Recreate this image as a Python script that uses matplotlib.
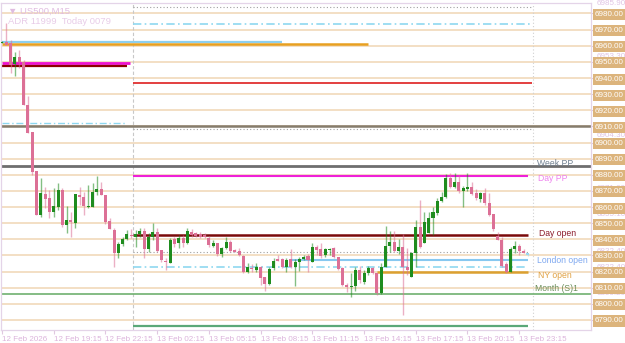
import numpy as np
import matplotlib
matplotlib.use("Agg")
import matplotlib.pyplot as plt

plt.rcParams["font.family"] = ["Liberation Sans", "DejaVu Sans"]

# US500 M15 candles (open, high, low, close)
opens = [6962.0, 6962.4, 6961.7, 6948.7, 6953.1, 6950.0, 6923.3, 6906.6, 6882.4, 6855.1,
         6868.1, 6865.6, 6857.0, 6860.1, 6870.6, 6848.9, 6852.0, 6850.1, 6867.5, 6866.3,
         6860.1, 6860.1, 6869.4, 6871.2, 6867.5, 6851.4, 6845.8, 6831.5, 6837.1, 6840.2,
         6842.7, 6841.5, 6843.3, 6845.2, 6834.0, 6841.5, 6844.6, 6833.4, 6826.6, 6825.3,
         6840.2, 6837.8, 6840.8, 6837.8, 6844.6, 6843.9, 6843.3, 6842.7, 6840.8, 6835.9,
         6837.8, 6830.9, 6834.6, 6838.4, 6833.4, 6832.8, 6829.7, 6819.8, 6822.2, 6821.0,
         6822.9, 6816.7, 6812.3, 6822.2, 6827.8, 6827.8, 6822.9, 6827.8, 6822.9, 6826.0,
         6827.8, 6829.7, 6826.0, 6835.3, 6834.0, 6830.3, 6833.4, 6834.6, 6829.1, 6822.2,
         6811.7, 6810.5, 6811.1, 6821.0, 6813.6, 6819.1, 6822.2, 6819.1, 6806.8, 6822.9,
         6835.9, 6838.4, 6832.8, 6835.3, 6822.9, 6816.7, 6831.5, 6847.7, 6837.8, 6843.9,
         6853.2, 6856.3, 6863.8, 6866.3, 6878.0, 6872.5, 6875.6, 6870.0, 6871.2, 6872.5,
         6868.8, 6865.0, 6868.8, 6862.5, 6855.7, 6842.1, 6839.6, 6824.7, 6819.8, 6834.0,
         6835.9, 6832.8, 6831.5]
highs = [6963.0, 6974.1, 6963.6, 6956.2, 6957.4, 6951.2, 6928.9, 6906.6, 6882.4, 6878.0,
         6872.5, 6870.6, 6871.8, 6874.9, 6871.8, 6860.7, 6857.0, 6868.1, 6872.5, 6869.4,
         6873.7, 6874.9, 6879.3, 6875.6, 6867.5, 6853.2, 6847.0, 6838.4, 6841.5, 6845.8,
         6846.4, 6845.8, 6847.0, 6847.0, 6843.9, 6850.1, 6847.0, 6833.4, 6828.4, 6840.8,
         6841.5, 6842.7, 6842.7, 6847.0, 6846.4, 6844.6, 6844.6, 6844.0, 6842.1, 6839.6,
         6837.8, 6835.3, 6841.5, 6839.6, 6834.0, 6834.6, 6830.3, 6825.3, 6824.7, 6825.3,
         6823.5, 6816.7, 6822.9, 6828.4, 6830.3, 6828.4, 6828.4, 6834.0, 6827.8, 6829.1,
         6830.3, 6830.9, 6837.8, 6836.5, 6837.8, 6834.6, 6834.6, 6835.3, 6829.1, 6822.9,
         6812.9, 6819.1, 6822.9, 6823.5, 6821.0, 6823.5, 6823.0, 6819.1, 6825.3, 6848.3,
         6845.2, 6845.2, 6840.2, 6843.3, 6834.6, 6832.2, 6852.0, 6864.4, 6857.0, 6857.0,
         6860.1, 6865.6, 6869.4, 6880.5, 6881.1, 6881.1, 6879.9, 6873.1, 6881.1, 6875.6,
         6871.2, 6869.4, 6871.8, 6868.8, 6855.7, 6844.6, 6841.5, 6826.0, 6835.3, 6839.0,
         6837.1, 6834.0, 6831.5]
lows = [6961.5, 6960.5, 6943.1, 6941.3, 6946.2, 6923.3, 6905.9, 6879.9, 6855.1, 6853.9,
        6859.4, 6853.2, 6853.9, 6858.2, 6847.7, 6843.9, 6841.5, 6847.0, 6861.3, 6855.1,
        6859.4, 6860.1, 6867.5, 6867.5, 6849.5, 6846.4, 6822.9, 6828.4, 6835.9, 6839.6,
        6840.8, 6835.3, 6841.5, 6828.4, 6832.2, 6839.6, 6832.2, 6826.0, 6821.0, 6825.3,
        6835.3, 6834.6, 6835.3, 6837.1, 6841.5, 6841.5, 6840.8, 6840.8, 6835.3, 6835.3,
        6829.7, 6829.1, 6834.0, 6832.2, 6832.2, 6829.7, 6819.1, 6819.1, 6819.8, 6819.8,
        6811.7, 6808.0, 6811.7, 6821.0, 6826.6, 6822.2, 6819.8, 6822.2, 6811.1, 6820.4,
        6827.2, 6819.8, 6826.0, 6830.0, 6828.4, 6829.1, 6830.3, 6828.4, 6821.0, 6811.1,
        6807.4, 6804.3, 6808.0, 6812.9, 6812.3, 6817.9, 6818.5, 6805.5, 6806.0, 6822.9,
        6832.2, 6832.2, 6830.9, 6793.1, 6817.9, 6816.7, 6822.9, 6834.6, 6837.8, 6843.9,
        6842.7, 6855.1, 6863.2, 6865.6, 6871.8, 6871.8, 6868.8, 6860.1, 6870.0, 6867.5,
        6864.4, 6863.2, 6861.3, 6854.5, 6845.2, 6839.6, 6822.9, 6819.1, 6819.8, 6831.5,
        6830.3, 6831.5, 6829.7]
closes = [6962.5, 6960.5, 6948.1, 6953.1, 6950.0, 6923.3, 6905.9, 6881.8, 6855.1, 6868.8,
          6865.0, 6857.0, 6860.7, 6870.6, 6848.9, 6852.0, 6850.8, 6868.1, 6866.3, 6860.7,
          6860.7, 6869.4, 6871.2, 6867.5, 6850.8, 6846.4, 6831.5, 6837.1, 6840.2, 6843.3,
          6842.1, 6843.3, 6845.2, 6834.0, 6841.5, 6844.6, 6832.8, 6827.2, 6826.0, 6839.6,
          6837.1, 6840.8, 6837.8, 6845.2, 6842.7, 6842.1, 6841.5, 6841.5, 6836.5, 6837.8,
          6830.9, 6834.6, 6838.4, 6832.8, 6832.2, 6830.3, 6819.8, 6822.9, 6821.6, 6822.9,
          6816.0, 6812.3, 6821.6, 6826.6, 6826.6, 6822.9, 6827.2, 6822.9, 6826.0, 6827.8,
          6829.1, 6827.2, 6835.3, 6833.4, 6829.7, 6834.0, 6834.0, 6829.1, 6821.6, 6811.7,
          6810.5, 6811.1, 6821.0, 6814.8, 6819.1, 6822.2, 6819.1, 6806.8, 6822.9, 6835.9,
          6838.4, 6832.8, 6835.3, 6822.9, 6821.0, 6831.5, 6847.7, 6835.3, 6850.8, 6853.2,
          6857.0, 6863.8, 6866.3, 6878.0, 6872.5, 6875.6, 6870.0, 6871.8, 6872.5, 6868.1,
          6865.6, 6868.8, 6862.5, 6855.1, 6846.4, 6839.6, 6823.5, 6819.8, 6834.0, 6835.9,
          6832.8, 6831.5, 6830.3]

tick_pos = [0, 12, 24, 36, 48, 60, 72, 84, 96, 108, 120]
tick_labels = ["12 Feb 2026", "12 Feb 19:15", "12 Feb 22:15", "13 Feb 02:15", "13 Feb 05:15",
               "13 Feb 08:15", "13 Feb 11:15", "13 Feb 14:15", "13 Feb 17:15", "13 Feb 20:15",
               "13 Feb 23:15"]

price_ticks = list(range(6790, 6990, 10))
marker_prices = [6985.90, 6953.30, 6936.70, 6904.30, 6887.00, 6871.60, 6855.10, 6832.40, 6822.40, 6806.20]

# named levels
week_pp = 6885.4
day_pp = 6879.5
day_open = 6842.7
london_open = 6827.2
ny_open = 6819.6
month_s1 = 6806.4
month_line = 6910.2

o = np.array(opens); h = np.array(highs); l = np.array(lows); c = np.array(closes)
x = np.arange(len(o))
up = c >= o

fig = plt.figure(figsize=(6.25, 3.43), dpi=100)
ax = fig.add_axes([1 / 625, 13 / 343, 590 / 625, 327 / 343])
ax.set_xlim(-0.23, 136.66)
ax.set_ylim(6783.8, 6986.5)

# price grid
for p in price_ticks:
    ax.axhline(p, color="#f2dcbf", lw=1.3, zorder=0)

# day separators
ax.axvline(30.5, color="#c8c8c8", lw=0.8, ls=(0, (3, 2)), zorder=1)
ax.axvline(123.2, color="#d0d0d0", lw=0.8, ls=(0, (1, 2)), zorder=1)

# previous day lines
ax.hlines(6962.4, 0, 65, color="#8ecfee", lw=1.6, zorder=2)
ax.hlines(6961.1, 0, 85, color="#e8a020", lw=1.8, zorder=2)
ax.hlines(6949.6, 0, 29.7, color="#ee10d0", lw=2, zorder=2)
ax.hlines(6947.3, 0, 29.0, color="#8b0000", lw=1.6, zorder=2)
ax.hlines(6911.9, 0, 29.0, color="#8fd8f0", lw=1, ls=(0, (5, 2, 1, 2)), zorder=2)

# today lines
ax.hlines(6984.0, 30.5, 123, color="#a0a0a0", lw=0.8, ls=(0, (1, 2)), zorder=2)
ax.hlines(6973.7, 30.5, 123, color="#8fd8f0", lw=1.2, ls=(0, (5, 2, 1, 2)), zorder=2)
ax.hlines(6937.1, 30.5, 123, color="#e03030", lw=1.3, zorder=2)
ax.hlines(6908.2, 30.5, 123, color="#a0a0a0", lw=0.8, ls=(0, (1, 2)), zorder=2)
ax.hlines(day_pp, 30.5, 122, color="#ee20d8", lw=1.5, zorder=2)
ax.hlines(day_open, 30.5, 122, color="#7a0a0a", lw=1.8, zorder=2)
ax.hlines(6832.4, 30.5, 122, color="#a0a0a0", lw=0.8, ls=(0, (1, 2)), zorder=2)
ax.hlines(london_open, 67, 122, color="#87c8f0", lw=1.5, zorder=2)
ax.hlines(6822.9, 30.5, 122, color="#8fd8f0", lw=1.2, ls=(0, (5, 2, 1, 2)), zorder=2)
ax.hlines(ny_open, 87, 122, color="#dba030", lw=1.8, zorder=2)
ax.hlines(6786.2, 30.5, 122, color="#5aa878", lw=1.6, zorder=2)

# full width lines
ax.axhline(month_line, color="#857c6c", lw=1.8, zorder=2)
ax.axhline(week_pp, color="#6e6e6e", lw=2, zorder=2)
ax.axhline(month_s1, color="#70b070", lw=1.2, zorder=2)

# candles
green = "#1e8c1e"
pink = "#dc7096"
col = np.where(up, green, pink)
col[-1] = "#9ad8f0"
ax.vlines(x, l, h, colors=col, lw=1, alpha=0.55, zorder=3)
body = np.maximum(np.abs(c - o), 0.6)
ax.bar(x, body, bottom=np.minimum(o, c), width=0.7, color=col, linewidth=0, zorder=4)

# level names
lab = dict(fontsize=6.2, va="center")
ax.text(124.2, week_pp + 1.8, "Week PP", color="#6f7f8f", **lab)
ax.text(124.4, day_pp - 1.5, "Day PP", color="#ee82ee", **lab)
ax.text(124.6, day_open + 1.2, "Day open", color="#8b1a2a", **lab)
ax.text(124.2, london_open - 0.6, "London open", color="#7fa8f0", **lab)
ax.text(124.4, ny_open - 2.3, "NY open", color="#e0a040", **lab)
ax.text(123.6, month_s1 + 3.4, "Month (S)1", color="#6b8e5b", **lab)

# header
ax.text(0.012, 0.988, "\u25bc US500,M15", transform=ax.transAxes, color="#e0bce0",
        fontsize=6.8, va="top")
ax.text(0.012, 0.958, "ADR 11999  Today 0079", transform=ax.transAxes, color="#e8cce8",
        fontsize=6.8, va="top")

# right axis
ax.yaxis.tick_right()
ax.set_yticks(price_ticks)
ax.set_yticklabels([f"{p:.2f}" for p in price_ticks])
ax.tick_params(axis="y", length=1.5, pad=1.2, labelsize=5.8, colors="#e0c8e0", labelcolor="white")
for t in ax.get_yticklabels():
    t.set_bbox(dict(boxstyle="square,pad=0.25", fc="#dcb47c", ec="none"))
for p in marker_prices:
    ax.text(1.009, p, f"{p:.2f}", transform=ax.get_yaxis_transform(), color="#e0c4e4",
            fontsize=5.8, va="center", zorder=0, clip_on=False)

# bottom axis
ax.set_xticks(tick_pos)
ax.set_xticklabels(tick_labels)
ax.tick_params(axis="x", length=3, pad=1.5, labelsize=5.8, colors="#e0c8e0", labelcolor="#dcb4dc")
for t in ax.get_xticklabels():
    t.set_horizontalalignment("left")

for s in ax.spines.values():
    s.set_color("#e4d4e8")
    s.set_linewidth(0.9)

fig.savefig("out.png", dpi=100)
